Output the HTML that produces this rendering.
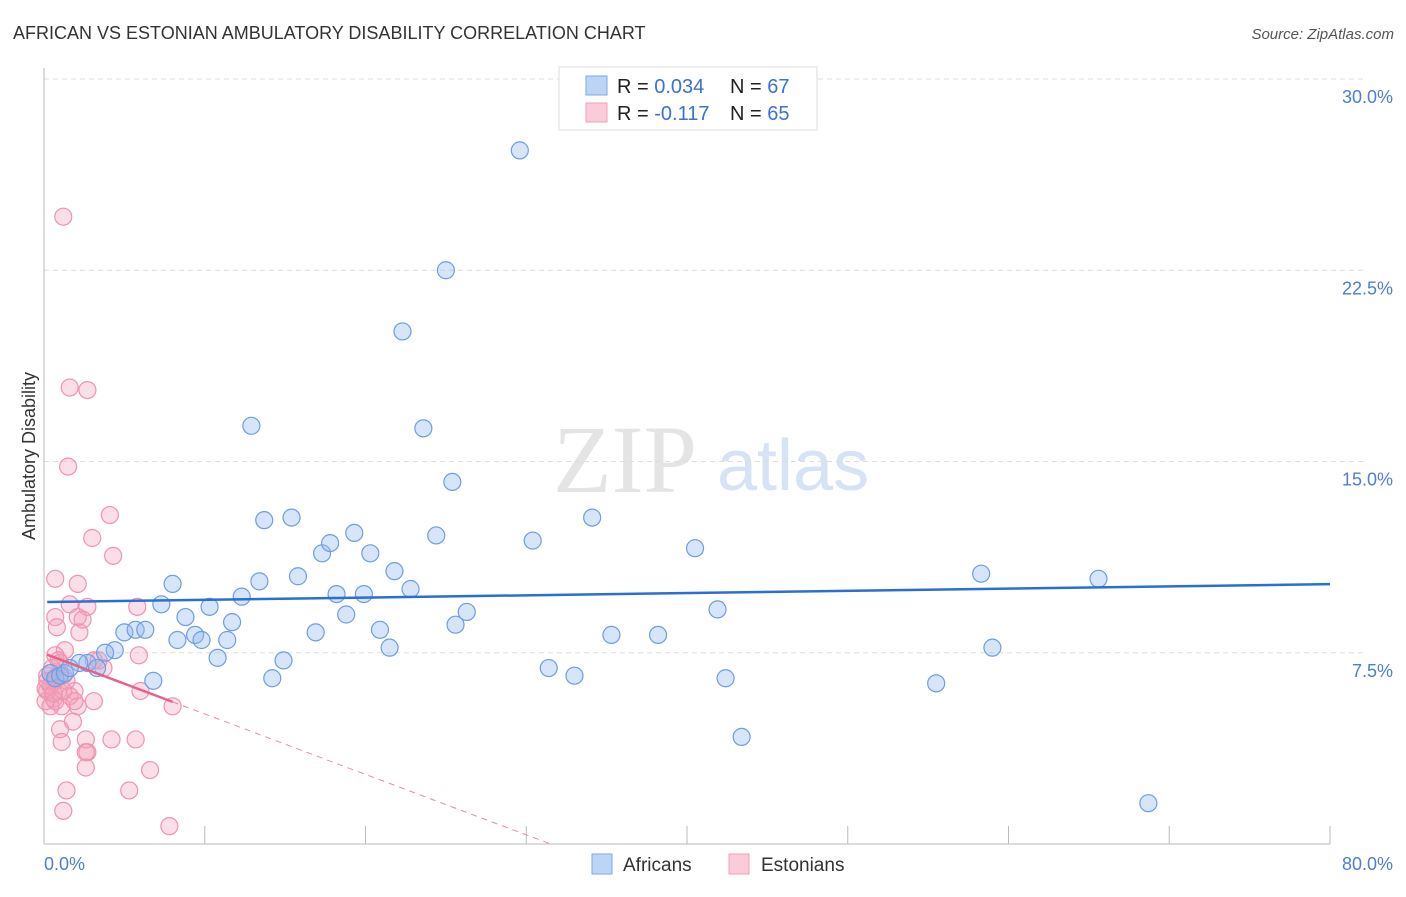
<!DOCTYPE html>
<html><head><meta charset="utf-8"><style>
body{margin:0;background:#fff;font-family:"Liberation Sans",sans-serif;}
svg text{font-family:"Liberation Sans",sans-serif;}
</style></head><body>
<svg id="chart" width="1406" height="892" xmlns="http://www.w3.org/2000/svg">
<text x="13" y="39" font-size="18" fill="#333">AFRICAN VS ESTONIAN AMBULATORY DISABILITY CORRELATION CHART</text>
<text x="1394" y="39" font-size="15" fill="#555" font-style="italic" text-anchor="end">Source: ZipAtlas.com</text>
<text transform="translate(35,456) rotate(-90)" font-size="18" fill="#333" text-anchor="middle">Ambulatory Disability</text>
<g>
<text x="553" y="492" font-size="96" fill="#e4e4e4" font-family="Liberation Serif, serif" style="font-family:'Liberation Serif',serif">ZIP</text>
<text x="717" y="490" font-size="72" fill="#d6e3f5">atlas</text>
</g>
<g id="grid"></g>
<g id="axes"></g>
<g id="marks"></g>
<g>
<rect x="559" y="67" width="258" height="63" fill="#fff" stroke="#ddd"/>
<rect x="586" y="76" width="21" height="19" fill="#bcd4f6" stroke="#7ea7e8"/>
<rect x="586" y="103" width="21" height="19" fill="#fbcbd9" stroke="#f0a0b8"/>
<text x="617" y="93" font-size="20" fill="#222">R = <tspan fill="#3a72d0">0.034</tspan></text>
<text x="730" y="93" font-size="20" fill="#222">N = <tspan fill="#3a72d0">67</tspan></text>
<text x="617" y="120" font-size="20" fill="#222">R = <tspan fill="#3a72d0"> -0.117</tspan></text>
<text x="730" y="120" font-size="20" fill="#222">N = <tspan fill="#3a72d0">65</tspan></text>
</g>
<g>
<rect x="592" y="854" width="20" height="20" fill="#bcd4f6" stroke="#7ea7e8"/>
<text x="623" y="871" font-size="19" fill="#333">Africans</text>
<rect x="729" y="854" width="20" height="20" fill="#fbcbd9" stroke="#f0a0b8"/>
<text x="761" y="871" font-size="19" fill="#333">Estonians</text>
</g>
</svg>
<script>
const yTicks=[7.5,15.0,22.5,30.0];
const xTickLabels=["0.0%","80.0%"];
const africansX=[29.6,25.0,22.3,12.9,23.6,25.4,13.7,15.4,34.1,19.3,24.4,30.4,40.5,17.3,17.8,20.3,8.0,13.4,15.8,21.8,58.3,65.6,12.3,22.8,18.2,19.9,7.3,10.3,26.3,41.9,18.8,8.8,11.7,25.6,5.0,5.7,6.3,16.9,20.9,35.3,38.2,9.4,8.3,11.4,9.8,21.5,4.4,3.8,10.8,14.9,59.0,2.7,2.2,3.3,31.4,33.0,42.4,14.2,6.8,55.5,43.4,68.7,0.4,0.7,1.0,1.3,1.6];
const africansY=[27.2,22.5,20.1,16.4,16.3,14.2,12.7,12.8,12.8,12.2,12.1,11.9,11.6,11.4,11.8,11.4,10.2,10.3,10.5,10.7,10.6,10.4,9.7,10.0,9.8,9.8,9.4,9.3,9.1,9.2,9.0,8.9,8.7,8.6,8.3,8.4,8.4,8.3,8.4,8.2,8.2,8.2,8.0,8.0,8.0,7.7,7.6,7.5,7.3,7.2,7.7,7.1,7.1,6.9,6.9,6.6,6.5,6.5,6.4,6.3,4.2,1.6,6.7,6.5,6.6,6.7,6.9];
const estoniansX=[1.2,1.6,2.7,1.5,4.1,3.0,4.3,0.7,2.1,1.6,2.7,5.8,0.7,2.1,2.4,0.8,5.9,1.3,0.7,3.1,3.7,1.0,1.2,0.5,0.9,0.2,0.6,1.9,6.0,3.1,1.1,2.1,0.4,0.7,0.1,8.0,1.8,1.0,2.6,4.2,5.7,1.1,2.7,2.6,2.6,6.6,1.4,5.3,1.2,7.8,0.4,0.7,0.2,1.0,1.4,0.5,1.6,0.1,0.9,2.2,3.4,1.2,1.9,0.2,0.6];
const estoniansY=[24.6,17.9,17.8,14.8,12.9,12.0,11.3,10.4,10.2,9.4,9.3,9.3,8.9,8.9,8.8,8.5,7.4,7.6,7.4,7.2,6.9,7.1,6.6,6.4,6.0,6.0,5.7,6.0,6.0,5.6,5.4,5.4,5.4,5.6,5.6,5.4,4.8,4.5,4.1,4.1,4.1,4.0,3.6,3.6,3.0,2.9,2.1,2.1,1.3,0.7,6.2,6.4,6.6,6.7,6.4,6.9,5.8,6.1,7.2,8.3,7.2,6.0,5.6,6.4,5.9];
const africansTrend=[9.49,10.19];
const estoniansTrend=[7.47,-0.237];
const estoniansSolidEnd=8.0;

const NS="http://www.w3.org/2000/svg";
const X0=44,X1=1330,Y0=844,PXY=25.5;
const sx=v=>X0+(v/80)*(X1-X0);
const sy=v=>Y0-v*PXY;
function mk(tag,attrs,parent){const e=document.createElementNS(NS,tag);for(const k in attrs)e.setAttribute(k,attrs[k]);parent.appendChild(e);return e;}
const grid=document.getElementById('grid'),axes=document.getElementById('axes'),marks=document.getElementById('marks');
yTicks.forEach(t=>{
  const l=mk('line',{x1:X0,x2:1366,y1:sy(t),y2:sy(t),stroke:'#ddd','stroke-dasharray':'5,4'},grid);
  
  
  const tx=mk('text',{x:1393,y:sy(t)+24,'font-size':18,fill:'#4a7fd4','text-anchor':'end'},axes);
  tx.textContent=t.toFixed(1)+'%';
  
  
});
let a=mk('line',{x1:X0,x2:X0,y1:68,y2:Y0,stroke:'#bbb'},axes);


a=mk('line',{x1:X0,x2:X1,y1:Y0,y2:Y0,stroke:'#bbb'},axes);


for(let i=1;i<=8;i++){const t=mk('line',{x1:X0+i*(X1-X0)/8,x2:X0+i*(X1-X0)/8,y1:826,y2:Y0,stroke:'#bbb'},axes);
  
  }
let xl=mk('text',{x:44,y:870,'font-size':18,fill:'#4a7fd4'},axes);xl.textContent=xTickLabels[0];


xl=mk('text',{x:1393,y:870,'font-size':18,fill:'#4a7fd4','text-anchor':'end'},axes);xl.textContent=xTickLabels[1];



estoniansX.forEach((x,i)=>{const c=mk('circle',{cx:sx(x),cy:sy(estoniansY[i]),r:8.5,fill:'rgba(244,160,185,0.35)',stroke:'#ef93b0','stroke-width':1.2},marks);
  
  });
africansX.forEach((x,i)=>{const c=mk('circle',{cx:sx(x),cy:sy(africansY[i]),r:8.5,fill:'rgba(147,187,240,0.38)',stroke:'#6e9de3','stroke-width':1.2},marks);
  
  });
let tl=mk('line',{x1:sx(0.2),x2:sx(80),y1:sy(africansTrend[0]+(africansTrend[1]-africansTrend[0])*0.2/80),y2:sy(africansTrend[1]),stroke:'#2a6fd6','stroke-width':2.5},marks);


const pe=x=>estoniansTrend[0]+estoniansTrend[1]*x;
tl=mk('line',{x1:sx(0.2),x2:sx(estoniansSolidEnd),y1:sy(pe(0.2)),y2:sy(pe(estoniansSolidEnd)),stroke:'#e8608a','stroke-width':2.5},marks);


const xEnd=-estoniansTrend[0]/estoniansTrend[1];
tl=mk('line',{x1:sx(estoniansSolidEnd),x2:sx(xEnd),y1:sy(pe(estoniansSolidEnd)),y2:sy(0),stroke:'#eb8aa8','stroke-width':1,'stroke-dasharray':'6,5'},marks);


</script>
</body></html>
